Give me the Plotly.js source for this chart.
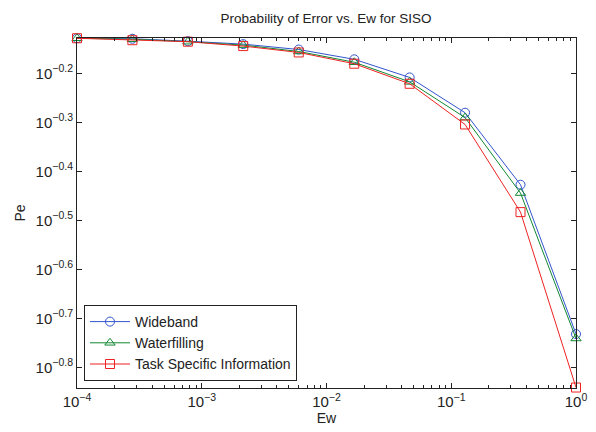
<!DOCTYPE html>
<html>
<head>
<meta charset="utf-8">
<script src="https://cdn.plot.ly/plotly-3.0.1.min.js"></script>
<style>html,body{margin:0;padding:0;background:#fff;}#chart{width:596px;height:432px;}</style>
</head>
<body>
<div id="chart"></div>
<script>
const ew = [1e-4, 2.78e-4, 7.74e-4, 2.15e-3, 5.99e-3, 1.67e-2, 4.64e-2, 0.129, 0.359, 1];
const wideband = [0.7447, 0.7430, 0.7345, 0.7244, 0.7063, 0.6745, 0.6194, 0.5248, 0.3741, 0.1854];
const waterfilling = [0.7447, 0.7413, 0.7328, 0.7211, 0.6998, 0.6653, 0.6067, 0.5129, 0.3597, 0.1816];
const taskSpecific = [0.7447, 0.7379, 0.7328, 0.7178, 0.6966, 0.6607, 0.6012, 0.4966, 0.3289, 0.1442];
const seriesNames = ['Wideband', 'Waterfilling', 'Task Specific Information'];
const yTickExp = ['-0.2', '-0.3', '-0.4', '-0.5', '-0.6', '-0.7', '-0.8'];
const xTickExp = ['-4', '-3', '-2', '-1', '0'];

const font = 'Liberation Sans, Arial, sans-serif';
const yTickVals = yTickExp.map(e => Math.pow(10, parseFloat(e)));
const yTickText = yTickExp.map(e => '10<sup>' + e.replace('-', '\u2212') + '</sup>');
const xTickVals = xTickExp.map(e => Math.pow(10, parseFloat(e)));
const xTickText = xTickExp.map(e => '10<sup>' + e.replace('-', '\u2212') + '</sup>');
const xMinor = [];
for (let d = -4; d < 0; d++) for (let m = 2; m <= 9; m++) xMinor.push(m * Math.pow(10, d));

function tr(y, name, color, symbol) {
  return {x: ew, y: y, name: name, type: 'scatter', mode: 'lines+markers', cliponaxis: false,
    line: {color: color, width: 1},
    marker: {symbol: symbol, size: 9, color: color, line: {color: color, width: 1}}};
}
const data = [
  tr(wideband, seriesNames[0], '#3355cc', 'circle-open'),
  tr(waterfilling, seriesNames[1], '#118833', 'triangle-up-open'),
  tr(taskSpecific, seriesNames[2], '#ee2222', 'square-open')
];
const layout = {
  width: 596, height: 432,
  margin: {l: 77, r: 20, t: 38, b: 44},
  paper_bgcolor: '#fff', plot_bgcolor: '#fff',
  font: {family: font, size: 13, color: '#222'},
  title: {text: 'Probability of Error vs. Ew for SISO', font: {size: 13.5, family: font, color: '#222'}, x: 0.547, xanchor: 'center', y: 0.958, yanchor: 'middle'},
  xaxis: {type: 'log', range: [-4, 0], tickmode: 'array', tickvals: xTickVals, ticktext: xTickText,
    ticks: 'inside', ticklen: 5, tickcolor: '#222', showline: true, linecolor: '#222', linewidth: 1, mirror: 'ticks',
    showgrid: false, zeroline: false, tickfont: {size: 15, family: font, color: '#222'},
    minor: {tickmode: 'array', tickvals: xMinor, ticks: 'inside', ticklen: 3, tickcolor: '#222', showgrid: false},
    title: {text: 'Ew', font: {size: 14, family: font, color: '#222'}, standoff: 2}},
  yaxis: {type: 'log', range: [-0.842, -0.1275], tickmode: 'array', tickvals: yTickVals, ticktext: yTickText,
    ticks: 'inside', ticklen: 5, tickcolor: '#222', showline: true, linecolor: '#222', linewidth: 1, mirror: 'ticks',
    showgrid: false, zeroline: false, tickfont: {size: 15, family: font, color: '#222'},
    title: {text: 'Pe', font: {size: 14, family: font, color: '#222'}, standoff: 6}},
  showlegend: true,
  legend: {x: 0.014, y: 0.02, xanchor: 'left', yanchor: 'bottom', bgcolor: '#fff', bordercolor: '#222', borderwidth: 1,
    font: {size: 14, family: font, color: '#222'}, tracegroupgap: 0, itemwidth: 40}
};
Plotly.newPlot('chart', data, layout, {displayModeBar: false, staticPlot: true});
</script>
</body>
</html>
